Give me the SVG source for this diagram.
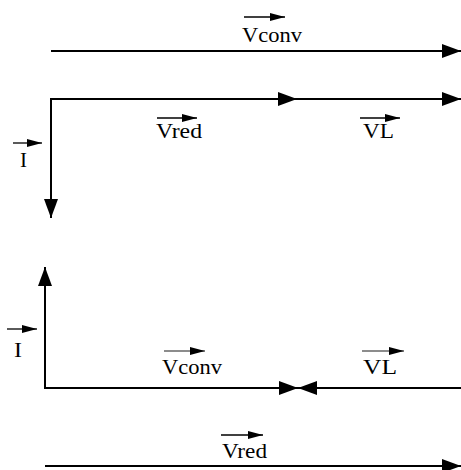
<svg xmlns="http://www.w3.org/2000/svg" width="461" height="470" viewBox="0 0 461 470">
<style>
.ln{fill:none;stroke:#000;stroke-width:2;stroke-linejoin:miter}
.ov{fill:none;stroke:#000;stroke-width:1.3}
.ovg{fill:none;stroke:#666;stroke-width:1.3}
.t{font-family:"Liberation Serif","Times New Roman",serif;fill:#000}
.s1{font-size:20px}
.s2{font-size:22px}
</style>
<defs>
<marker id="big" markerUnits="userSpaceOnUse" markerWidth="19" markerHeight="14" refX="19" refY="7" orient="auto-start-reverse" viewBox="0 0 19 14">
<path d="M0,0 L19,7 L0,14 z" fill="#000"/>
</marker>
<marker id="sm" markerUnits="userSpaceOnUse" markerWidth="15" markerHeight="8" refX="15" refY="4" orient="auto" viewBox="0 0 15 8">
<path d="M0,0 L15,4 L0,8 z" fill="#000"/>
</marker>
</defs>
<rect width="461" height="470" fill="#fff"/>
<g id="connectors">
<path class="ln" d="M51,51 H461" marker-end="url(#big)"/>
<path class="ln" d="M297,99 H51 V218" marker-start="url(#big)" marker-end="url(#big)"/>
<path class="ln" d="M297,99 H461" marker-end="url(#big)"/>
<path class="ln" d="M45,267 V388 H298" marker-start="url(#big)" marker-end="url(#big)"/>
<path class="ln" d="M461,388 H298" marker-end="url(#big)"/>
<path class="ln" d="M45,466 H461" marker-end="url(#big)"/>
</g>
<g id="label-vconv-top">
<path class="ov" d="M244,17 H285" marker-end="url(#sm)"/>
<text class="t s1" x="242" y="42" textLength="60" lengthAdjust="spacingAndGlyphs">Vconv</text>
</g>
<g id="label-vred-top">
<path class="ov" d="M157,118 H197" marker-end="url(#sm)"/>
<text class="t s1" x="156" y="138" textLength="46" lengthAdjust="spacingAndGlyphs">Vred</text>
</g>
<g id="label-vl-top">
<path class="ov" d="M360,118 H400" marker-end="url(#sm)"/>
<text class="t s1" x="363" y="138" textLength="31" lengthAdjust="spacingAndGlyphs">VL</text>
</g>
<g id="label-i-top">
<path class="ov" d="M13,143 H42" marker-end="url(#sm)"/>
<text class="t s2" x="20" y="167" textLength="7" lengthAdjust="spacingAndGlyphs">I</text>
</g>
<g id="label-i-bottom">
<path class="ov" d="M7,329 H37" marker-end="url(#sm)"/>
<text class="t s2" x="14" y="357" textLength="8" lengthAdjust="spacingAndGlyphs">I</text>
</g>
<g id="label-vconv-bottom">
<path class="ovg" d="M164,351 H205" marker-end="url(#sm)"/>
<text class="t s2" x="162" y="374" textLength="60" lengthAdjust="spacingAndGlyphs">Vconv</text>
</g>
<g id="label-vl-bottom">
<path class="ovg" d="M362,351 H404" marker-end="url(#sm)"/>
<text class="t s2" x="363" y="374" textLength="34" lengthAdjust="spacingAndGlyphs">VL</text>
</g>
<g id="label-vred-bottom">
<path class="ov" d="M221,435 H263" marker-end="url(#sm)"/>
<text class="t s2" x="222" y="458" textLength="45" lengthAdjust="spacingAndGlyphs">Vred</text>
</g>
</svg>
